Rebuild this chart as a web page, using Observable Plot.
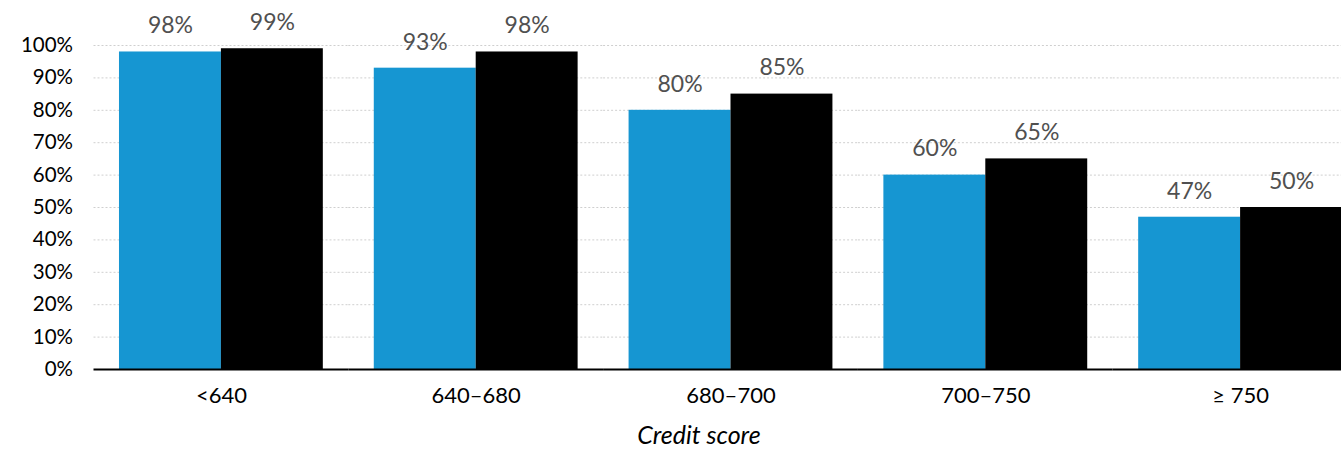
<!DOCTYPE html>
<html><head><meta charset="utf-8">
<script src="https://cdn.jsdelivr.net/npm/d3@7"></script>
<script src="https://cdn.jsdelivr.net/npm/@observablehq/plot@0.6"></script>
<style>
html,body{margin:0;padding:0;overflow:hidden;background:#fff}
#wrap{width:1341px;height:450px;overflow:hidden;font-family:Lato,sans-serif}
#chart svg{display:block}
#xlabel{position:relative;height:30px}
#xlabel span{position:absolute;left:699px;top:2px;transform:translateX(-50%);font-style:italic;font-size:25px;line-height:25px;white-space:nowrap;color:#000}
</style></head><body>
<div id="wrap"><div id="chart"></div><div id="xlabel"><span>Credit score</span></div></div>
<script>
const groups = ["<640", "640–680", "680–700", "700–750", "≥ 750"];
const seriesNames = ["Series A", "Series B"];
const seriesA = [98, 93, 80, 60, 47];
const seriesB = [99, 98, 85, 65, 50];
const yTicks = [0, 10, 20, 30, 40, 50, 60, 70, 80, 90, 100];
const colors = ["#1696d2", "#000000"];

const data = groups.flatMap((g, i) => [
  {group: g, series: seriesNames[0], value: seriesA[i]},
  {group: g, series: seriesNames[1], value: seriesB[i]}
]);

const chart = Plot.plot({
  width: 1341, height: 420,
  marginLeft: 93, marginRight: 0, marginTop: 45, marginBottom: 51,
  style: {fontFamily: "Lato, sans-serif", background: "white", overflow: "hidden"},
  fx: {domain: groups, range: [93.5, 1367.5], padding: 0, round: false},
  x: {domain: seriesNames, paddingInner: 0, paddingOuter: 0.25, round: false, axis: null},
  y: {domain: [0, 100]},
  color: {domain: seriesNames, range: colors},
  marks: [
    Plot.ruleY(yTicks.filter(d => d > 0), {stroke: "#cfcfcf", strokeDasharray: "2,2", strokeWidth: 1}),
    Plot.barY(data, {fx: "group", x: "series", y: "value", fill: "series"}),
    Plot.text(data, {fx: "group", x: "series", y: "value", text: d => d.value + "%", dy: -26, fontSize: 23, fill: "#505050"}),
    Plot.ruleY([0], {stroke: "#000", strokeWidth: 2}),
    Plot.axisY({ticks: yTicks, tickFormat: d => d + "%", tickSize: 0, tickPadding: 21, fontSize: 20.5, label: null}),
    Plot.axisFx({anchor: "bottom", tickSize: 0, tickPadding: 18, fontSize: 22, label: null})
  ]
});
document.getElementById("chart").appendChild(chart);
</script>
</body></html>
